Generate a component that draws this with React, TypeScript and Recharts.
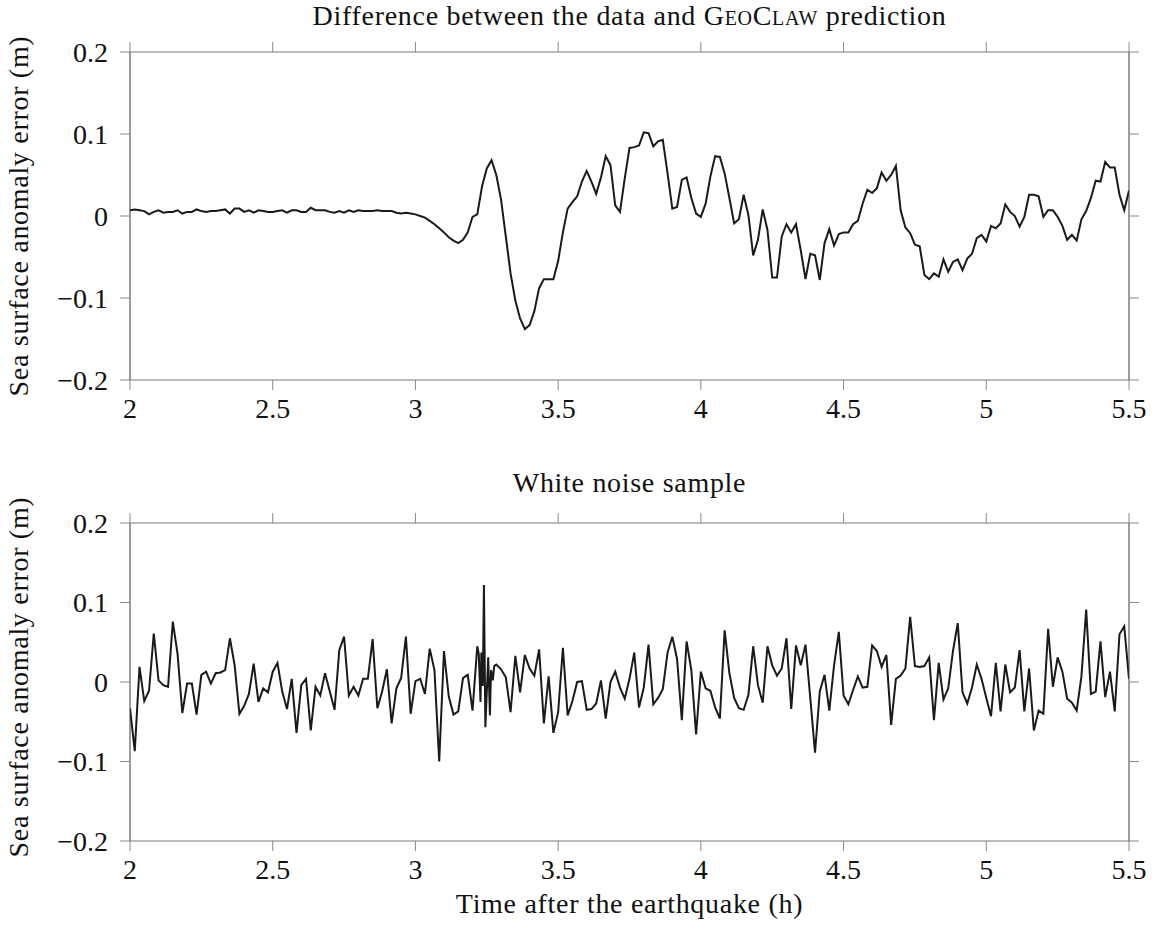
import React from 'react';
import { LineChart, Line, XAxis, YAxis } from 'recharts';

// ---- axis ticks ----
const X_TICKS = [2, 2.5, 3, 3.5, 4, 4.5, 5, 5.5];
const Y_TICKS = [-0.2, -0.1, 0, 0.1, 0.2];
const START_H = 2;
const STEP_H = 1 / 60; // one-minute sampling

// ---- top panel: data minus GeoClaw prediction (1-min samples from 2 h) ----
const geoclawDiff = [
  0.007, 0.008, 0.007, 0.006, 0.002, 0.005, 0.007, 0.004, 0.005, 0.005,
  0.007, 0.003, 0.005, 0.005, 0.008, 0.006, 0.005, 0.006, 0.006, 0.007,
  0.008, 0.003, 0.009, 0.009, 0.005, 0.007, 0.004, 0.007, 0.006, 0.005,
  0.005, 0.006, 0.007, 0.004, 0.007, 0.007, 0.005, 0.005, 0.010, 0.007,
  0.007, 0.007, 0.005, 0.004, 0.006, 0.004, 0.007, 0.005, 0.007, 0.006,
  0.006, 0.006, 0.007, 0.006, 0.006, 0.006, 0.004, 0.003, 0.004, 0.003,
  0.002, 0.000, -0.002, -0.006, -0.010, -0.015, -0.020, -0.026, -0.030, -0.033,
  -0.029, -0.020, -0.001, 0.002, 0.036, 0.058, 0.068, 0.050, 0.020, -0.025,
  -0.070, -0.103, -0.125, -0.138, -0.133, -0.116, -0.088, -0.077, -0.077, -0.077,
  -0.055, -0.020, 0.009, 0.017, 0.024, 0.042, 0.055, 0.042, 0.027, 0.047,
  0.073, 0.062, 0.013, 0.005, 0.046, 0.083, 0.084, 0.086, 0.102, 0.101,
  0.085, 0.091, 0.093, 0.052, 0.009, 0.011, 0.044, 0.047, 0.022, 0.003,
  -0.001, 0.015, 0.048, 0.073, 0.072, 0.052, 0.022, -0.009, -0.004, 0.026,
  0.001, -0.048, -0.029, 0.008, -0.017, -0.075, -0.075, -0.025, -0.010, -0.020,
  -0.010, -0.042, -0.077, -0.046, -0.048, -0.078, -0.033, -0.016, -0.036, -0.022,
  -0.020, -0.020, -0.010, -0.006, 0.015, 0.032, 0.028, 0.034, 0.053, 0.043,
  0.050, 0.061, 0.007, -0.014, -0.021, -0.035, -0.037, -0.072, -0.077, -0.070,
  -0.074, -0.053, -0.068, -0.056, -0.053, -0.066, -0.052, -0.046, -0.027, -0.023,
  -0.031, -0.012, -0.015, -0.009, 0.014, 0.005, 0.000, -0.013, -0.001, 0.026,
  0.026, 0.024, -0.001, 0.007, 0.007, -0.001, -0.012, -0.029, -0.023, -0.030,
  -0.004, 0.006, 0.022, 0.043, 0.042, 0.066, 0.059, 0.059, 0.026, 0.007, 0.031,
];

// ---- bottom panel: white noise sample ----
// 1-min samples from 2.0 h to 3.2 h
const noiseEarly = [
  -0.033, -0.087, 0.019, -0.024, -0.011, 0.061, 0.002, -0.004, -0.006, 0.076,
  0.035, -0.039, -0.002, -0.002, -0.041, 0.009, 0.013, -0.002, 0.011, 0.012,
  0.015, 0.055, 0.021, -0.040, -0.030, -0.015, 0.023, -0.025, -0.008, -0.013,
  0.013, 0.024, -0.012, -0.034, 0.004, -0.064, -0.004, 0.004, -0.061, -0.006,
  -0.017, 0.011, -0.012, -0.035, 0.040, 0.057, -0.017, -0.006, -0.017, 0.004,
  0.004, 0.054, -0.033, -0.012, 0.016, -0.052, -0.008, 0.005, 0.057, -0.040,
  0.001, 0.004, -0.015, 0.042, 0.015, -0.100, 0.039, -0.018, -0.041, -0.037,
  0.005, 0.009, -0.036,
];
// densely sampled burst between 3.2 h and 3.28 h
const noiseBurstTimes = [3.2167, 3.222, 3.228, 3.231, 3.236, 3.24, 3.245, 3.255, 3.261, 3.265, 3.271, 3.276];
const noiseBurstValues = [0.045, 0.035, -0.025, 0.037, -0.005, 0.122, -0.057, 0.031, -0.042, 0.015, 0.002, 0.02];
// 1-min samples from 3.2833 h (minute 77) to 5.5 h
const NOISE_LATE_START_MIN = 77;
const noiseLate = [
  0.022, 0.016, 0.006,
  -0.038, 0.033, -0.013, 0.034, 0.017, 0.008, 0.041, -0.052, 0.007, -0.064,
  -0.038, 0.043, -0.042, -0.024, 0.000, 0.001, -0.035, -0.034, -0.027, 0.002,
  -0.046, 0.000, 0.013, -0.007, -0.021, 0.004, 0.037, -0.032, -0.007, 0.047,
  -0.028, -0.020, -0.009, 0.037, 0.057, 0.029, -0.048, 0.051, 0.015, -0.066,
  0.013, -0.008, -0.011, -0.032, -0.046, 0.065, 0.011, -0.020, -0.033, -0.035,
  -0.016, 0.045, -0.004, -0.026, 0.045, 0.021, 0.008,
  0.017, 0.055, -0.034,
  0.046, 0.021, 0.047, -0.020, -0.089, -0.012, 0.009, -0.036, 0.021, 0.063,
  -0.017, -0.028, -0.010, 0.007, -0.007, -0.006, 0.046, 0.039, 0.019, 0.034,
  -0.054, 0.004, 0.008, 0.017, 0.082, 0.020, 0.019, 0.020, 0.031, -0.048,
  0.024, -0.022, -0.008, 0.039, 0.074, -0.013, -0.027, -0.007, 0.022, 0.004,
  -0.020, -0.043, 0.024, -0.037, 0.022, -0.013, -0.007, 0.040, -0.037, 0.017,
  -0.061, -0.036, -0.040, 0.067, -0.006, 0.031, 0.013, -0.021, -0.026, -0.036,
  0.007, 0.091, -0.015, -0.012, 0.051, -0.019, 0.013, -0.037, 0.060, 0.070, 0.004,
];

const topData = geoclawDiff.map((v, i) => ({ t: START_H + i * STEP_H, v }));
const bottomData = [
  ...noiseEarly.map((v, i) => ({ t: START_H + i * STEP_H, v })),
  ...noiseBurstTimes.map((t, i) => ({ t, v: noiseBurstValues[i] })),
  ...noiseLate.map((v, i) => ({ t: START_H + (NOISE_LATE_START_MIN + i) * STEP_H, v })),
];

const FONT = '"Liberation Serif", "Times New Roman", serif';
const FS = 28;
const TEXT = '#111';
const FRAME_V = '#3a3a3a';
const FRAME_H = '#7a7a7a';
const TICK = '#8a8a8a';

const fmtY = (v: number) => (v === 0 ? '0' : v < 0 ? '\u2212' + String(Math.abs(v)) : String(v));
const fmtX = (v: number) => String(v);

// tick label renderer that draws nothing (tick lines are still drawn)
const NoLabel = () => <g />;

function Panel({ data, top, height }: { data: { t: number; v: number }[]; top: number; height: number }) {
  const tickStyle = { fill: TEXT, fontSize: FS, fontFamily: FONT };
  return (
    <div style={{ position: 'absolute', left: 0, top, width: 1158, height }}>
      <LineChart width={1158} height={height} data={data} margin={{ top: 42, right: 17, bottom: 12, left: 0 }}>
        <XAxis
          xAxisId="top"
          orientation="top"
          type="number"
          dataKey="t"
          domain={[2, 5.5]}
          ticks={X_TICKS}
          allowDataOverflow
          height={10}
          tick={NoLabel}
          tickSize={10}
          interval={0}
          axisLine={{ stroke: FRAME_H, strokeWidth: 1 }}
          tickLine={{ stroke: TICK, strokeWidth: 1 }}
        />
        <XAxis
          xAxisId="bottom"
          orientation="bottom"
          type="number"
          dataKey="t"
          domain={[2, 5.5]}
          ticks={X_TICKS}
          allowDataOverflow
          height={40}
          tickSize={10}
          tickMargin={8}
          tick={tickStyle}
          tickFormatter={fmtX}
          interval={0}
          axisLine={{ stroke: FRAME_H, strokeWidth: 1 }}
          tickLine={{ stroke: TICK, strokeWidth: 1 }}
        />
        <YAxis
          yAxisId="left"
          type="number"
          domain={[-0.2, 0.2]}
          ticks={Y_TICKS}
          allowDataOverflow
          width={130}
          tickSize={10}
          tickMargin={12}
          tick={tickStyle}
          tickFormatter={fmtY}
          interval={0}
          axisLine={{ stroke: FRAME_V, strokeWidth: 1 }}
          tickLine={{ stroke: TICK, strokeWidth: 1 }}
        />
        <YAxis
          yAxisId="right"
          orientation="right"
          type="number"
          domain={[-0.2, 0.2]}
          ticks={Y_TICKS}
          allowDataOverflow
          width={12}
          tickSize={10}
          tick={NoLabel}
          interval={0}
          axisLine={{ stroke: FRAME_V, strokeWidth: 1 }}
          tickLine={{ stroke: TICK, strokeWidth: 1 }}
        />
        <Line
          xAxisId="bottom"
          yAxisId="left"
          type="linear"
          dataKey="v"
          stroke="#1a1a1a"
          strokeWidth={2}
          dot={false}
          activeDot={false}
          isAnimationActive={false}
        />
      </LineChart>
    </div>
  );
}

const textBase: React.CSSProperties = {
  position: 'absolute',
  fontFamily: FONT,
  fontSize: FS,
  lineHeight: '32px',
  letterSpacing: '0.7px',
  color: TEXT,
  whiteSpace: 'nowrap',
  textAlign: 'center',
};

function YLabel({ centerY }: { centerY: number }) {
  return (
    <div
      style={{
        ...textBase,
        left: 18.6 - 250,
        top: centerY - 16,
        width: 500,
        height: 32,
        transform: 'rotate(-90deg)',
        transformOrigin: '50% 50%',
      }}
    >
      Sea surface anomaly error (m)
    </div>
  );
}

export default function App() {
  return (
    <div style={{ position: 'absolute', left: 0, top: 0, width: 1158, height: 927, background: '#fff' }}>
      <div style={{ ...textBase, left: 130, width: 999, top: 0 }}>
        Difference between the data and <span style={{ fontVariant: 'small-caps' }}>GeoClaw</span> prediction
      </div>
      <Panel data={topData} top={0} height={432} />
      <YLabel centerY={216} />

      <div style={{ ...textBase, left: 130, width: 999, top: 467 }}>White noise sample</div>
      <Panel data={bottomData} top={471} height={422} />
      <YLabel centerY={677} />

      <div style={{ ...textBase, left: 130, width: 999, top: 888 }}>Time after the earthquake (h)</div>
    </div>
  );
}
